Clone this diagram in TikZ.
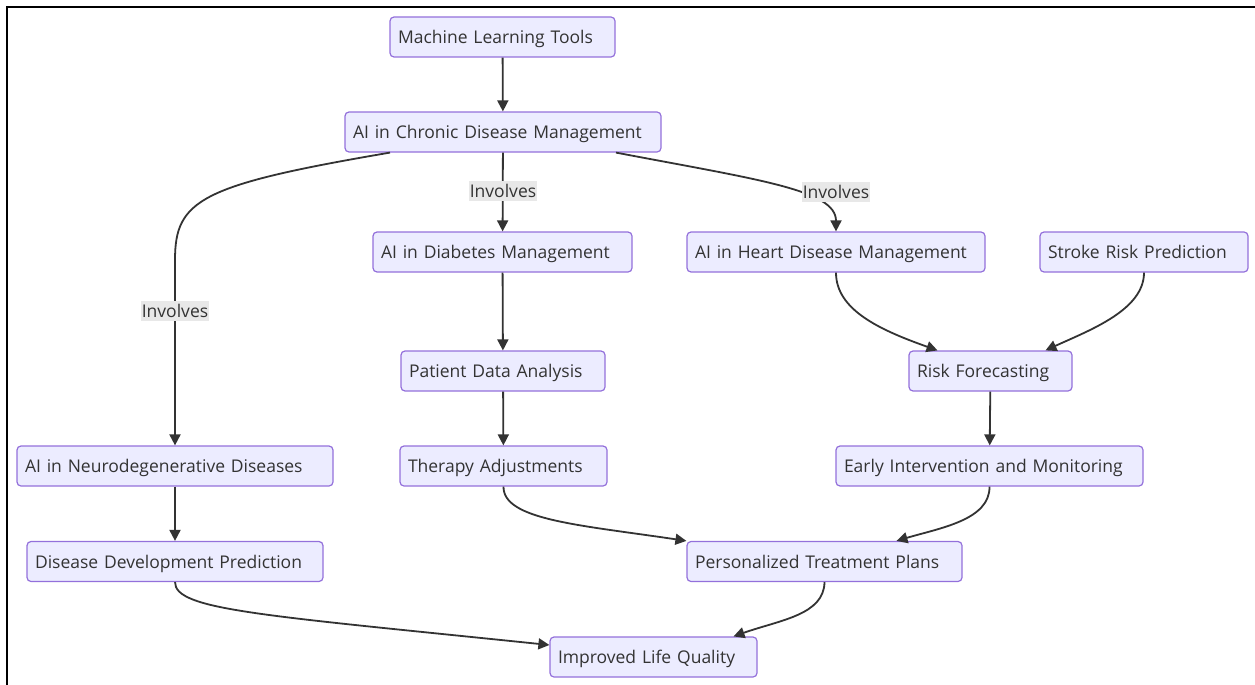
\documentclass[tikz,border=0pt]{standalone}
\usepackage{fontspec}
\setmainfont{Open Sans}
\usetikzlibrary{arrows.meta}
\definecolor{boxfill}{HTML}{ECECFF}
\definecolor{boxline}{HTML}{9370DB}
\definecolor{ink}{HTML}{333333}
\definecolor{lblfill}{HTML}{E8E8E8}

\begin{document}
\begin{tikzpicture}[x=1pt,y=1pt,
  box/.style={draw=boxline,fill=boxfill,rounded corners=4pt,line width=1.2pt,text=ink,inner xsep=8pt,minimum height=40pt,text height=15pt,text depth=2pt,align=left,font=\fontsize{17.5}{21}\selectfont},
  lbl/.style={fill=lblfill,text=ink,inner xsep=1pt,inner ysep=3pt,font=\fontsize{17.5}{21}\selectfont},
  arr/.style={draw=ink,line width=1.8pt,-{Triangle[length=11pt,width=11pt]}}]
\useasboundingbox (0,0) rectangle (1255,-685);
\draw[line width=2pt] (7,-685) -- (7,-7) -- (1255,-7);

\node[box,text width=209pt] (ml) at (502.5,-37) {Machine Learning Tools};
\node[box,text width=300pt] (chronic) at (503,-132) {AI in Chronic Disease Management};
\node[box,text width=243pt] (diabetes) at (502.5,-252) {AI in Diabetes Management};
\node[box,text width=282pt] (heart) at (836,-252) {AI in Heart Disease Management};
\node[box,text width=192pt] (stroke) at (1144,-252) {Stroke Risk Prediction};
\node[box,text width=188pt] (patient) at (503,-371) {Patient Data Analysis};
\node[box,text width=147pt] (risk) at (990.5,-371) {Risk Forecasting};
\node[box,text width=300pt] (neuro) at (175,-466) {AI in Neurodegenerative Diseases};
\node[box,text width=191pt] (therapy) at (503.5,-466) {Therapy Adjustments};
\node[box,text width=291pt] (early) at (989.5,-466) {Early Intervention and Monitoring};
\node[box,text width=280pt] (disdev) at (175,-561.5) {Disease Development Prediction};
\node[box,text width=259pt] (plans) at (824.5,-561.5) {Personalized Treatment Plans};
\node[box,text width=191pt] (quality) at (653.5,-657) {Improved Life Quality};

\draw[arr] (ml) -- (chronic);
\draw[arr] ([xshift=-113pt]chronic.south) .. controls (200,-185) and (175,-200) .. (175,-260) -- (neuro);
\draw[arr] (chronic) -- (diabetes);
\draw[arr] ([xshift=113pt]chronic.south) .. controls (760,-180) and (836,-190) .. (heart.north);
\draw[arr] (diabetes) -- (patient);
\draw[arr] (patient) -- (therapy);
\draw[arr] (heart.south) .. controls (836,-310) and (880,-330) .. ([xshift=-53pt]risk.north);
\draw[arr] (stroke.south) .. controls (1144,-310) and (1090,-330) .. ([xshift=55pt]risk.north);
\draw[arr] (risk) -- (early);
\draw[arr] (neuro) -- (disdev);
\draw[arr] (therapy.south) .. controls (503,-520) and (580,-525) .. (plans.north west);
\draw[arr] (early.south) .. controls (990,-520) and (940,-528) .. ([xshift=72pt]plans.north);
\draw[arr] (disdev.south) .. controls (175,-610) and (260,-615) .. ([yshift=12pt]quality.west);
\draw[arr] (plans.south) .. controls (824,-615) and (780,-620) .. ([xshift=80pt]quality.north);

\node[lbl] (inv1) at (175,-311) {Involves};
\node[lbl] (inv2) at (503,-191) {Involves};
\node[lbl] (inv3) at (836,-192) {Involves};
\end{tikzpicture}
\end{document}
